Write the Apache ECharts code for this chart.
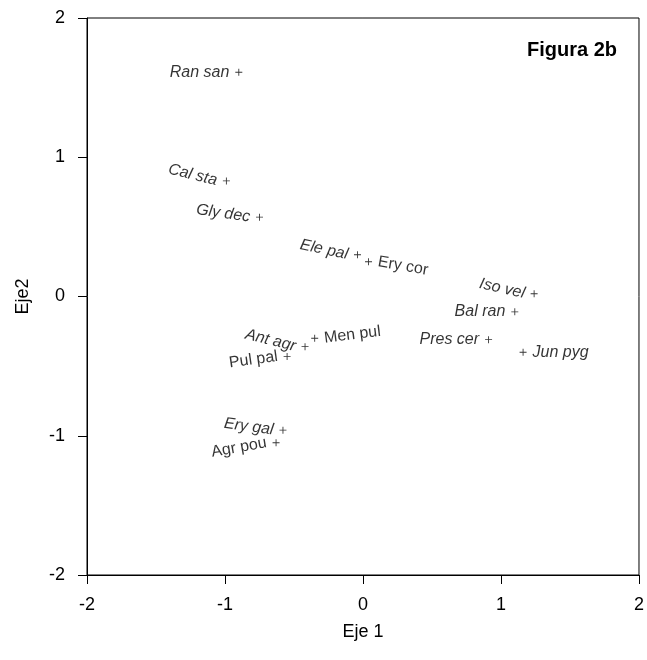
<!DOCTYPE html>
<html><head><meta charset="utf-8">
<script src="https://cdn.jsdelivr.net/npm/echarts@6/dist/echarts.min.js"></script>
<style>html,body{margin:0;padding:0;background:#fff}#c{width:647px;height:660px}</style>
</head><body><div id="c"></div>
<script>
const species = ["Ran san","Cal sta","Gly dec","Ele pal","Ery cor","Iso vel","Bal ran","Pres cer","Jun pyg","Ant agr","Men pul","Pul pal","Ery gal","Agr pou"];
const eje1 = [-0.90,-0.99,-0.75,-0.04,0.04,1.24,1.10,0.91,1.16,-0.42,-0.35,-0.55,-0.58,-0.63];
const eje2 = [1.61,0.83,0.57,0.30,0.25,0.02,-0.11,-0.31,-0.40,-0.36,-0.30,-0.43,-0.96,-1.05];
const xTicks = [-2,-1,0,1,2];
const yTicks = [-2,-1,0,1,2];

// label placement (style only)
const labelPlace = {
  "Ran san":{pos:"left",rot:0,italic:true},
  "Cal sta":{pos:"left",rot:-14,italic:true},
  "Gly dec":{pos:"left",rot:-8,italic:true},
  "Ele pal":{pos:"left",rot:-12,italic:true},
  "Ery cor":{pos:"right",rot:-10,italic:false},
  "Iso vel":{pos:"left",rot:-13,italic:true},
  "Bal ran":{pos:"left",rot:0,italic:true},
  "Pres cer":{pos:"left",rot:0,italic:true},
  "Jun pyg":{pos:"right",rot:0,italic:true},
  "Ant agr":{pos:"left",rot:-14,italic:true},
  "Men pul":{pos:"right",rot:7,italic:false},
  "Pul pal":{pos:"left",rot:8,italic:false},
  "Ery gal":{pos:"left",rot:-8,italic:true},
  "Agr pou":{pos:"left",rot:10,italic:false}
};

const data = species.map((n,i)=>{
  const p = labelPlace[n];
  return {
    name:n, value:[eje1[i],eje2[i]],
    label:{show:true, formatter:n, position:p.pos, rotate:p.rot, distance:6,
      fontStyle:p.italic?'italic':'normal',
      align:p.pos==='left'?'right':'left', verticalAlign:'middle'}
  };
});

const chart = echarts.init(document.getElementById('c'));
chart.setOption({
  animation:false,
  textStyle:{fontFamily:'Liberation Sans, Arial, sans-serif'},
  grid:{left:87,right:8,top:18,bottom:85,show:true,borderColor:'#000',borderWidth:1},
  xAxis:{type:'value',min:-2,max:2,interval:1,
    name:'Eje 1',nameLocation:'middle',nameGap:48,
    nameTextStyle:{fontSize:18,color:'#000',fontFamily:'Liberation Sans'},
    axisLine:{show:true,onZero:false,lineStyle:{color:'#000',width:1}},
    axisTick:{show:true,inside:false,length:9,lineStyle:{color:'#000'}},
    axisLabel:{fontSize:18,color:'#000',margin:21,fontFamily:'Liberation Sans',
      formatter:v=>xTicks.includes(v)?String(v):''},
    splitLine:{show:false}},
  yAxis:{type:'value',min:-2,max:2,interval:1,
    name:'Eje2',nameLocation:'middle',nameGap:55,nameRotate:90,
    nameTextStyle:{fontSize:18,color:'#000',fontFamily:'Liberation Sans'},
    axisLine:{show:true,onZero:false,lineStyle:{color:'#000',width:1}},
    axisTick:{show:true,inside:false,length:9,lineStyle:{color:'#000'}},
    axisLabel:{fontSize:18,color:'#000',margin:22,fontFamily:'Liberation Sans',
      formatter:v=>yTicks.includes(v)?String(v):''},
    splitLine:{show:false}},
  title:{text:'Figura 2b',right:25,top:35,
    textStyle:{fontSize:20,fontWeight:'bold',color:'#000',fontFamily:'Liberation Sans'}},
  series:[{
    type:'scatter',
    symbol:'path://M3.5,0h1v3.5h3.5v1h-3.5v3.5h-1v-3.5h-3.5v-1h3.5z',
    symbolSize:7,
    itemStyle:{color:'#000'},
    label:{color:'#000',fontSize:16,fontFamily:'Liberation Sans'},
    data:data
  }]
});
</script></body></html>
